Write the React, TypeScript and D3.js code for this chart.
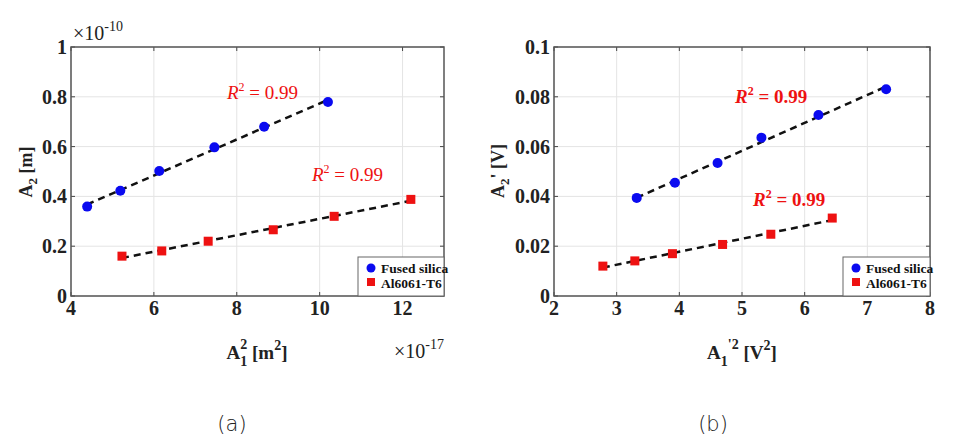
import React from "react";
import * as d3 from "d3";

// Panel (a)
const aFusedX = [4.39, 5.19, 6.13, 7.46, 8.66, 10.2];
const aFusedY = [0.359, 0.423, 0.502, 0.597, 0.68, 0.779];
const aAlX = [5.23, 6.19, 7.31, 8.88, 10.35, 12.2];
const aAlY = [0.16, 0.181, 0.22, 0.266, 0.32, 0.388];
const aXTicks = [4, 6, 8, 10, 12];
const aYTicks = [0, 0.2, 0.4, 0.6, 0.8, 1];

// Panel (b)
const bFusedX = [3.32, 3.93, 4.61, 5.31, 6.22, 7.3];
const bFusedY = [0.0394, 0.0455, 0.0534, 0.0636, 0.0727, 0.083];
const bAlX = [2.78, 3.29, 3.89, 4.69, 5.46, 6.44];
const bAlY = [0.012, 0.0141, 0.017, 0.0207, 0.0248, 0.0313];
const bXTicks = [2, 3, 4, 5, 6, 7, 8];
const bYTicks = [0, 0.02, 0.04, 0.06, 0.08, 0.1];

const legendLabels = ["Fused silica", "Al6061-T6"];

const SERIF = "Liberation Serif, DejaVu Serif, serif";
const BLUE = "#0a0af0";
const RED = "#ee1111";

function fit(xs: number[], ys: number[]) {
  const mx = d3.mean(xs)!;
  const my = d3.mean(ys)!;
  let num = 0, den = 0;
  xs.forEach((x, i) => { num += (x - mx) * (ys[i] - my); den += (x - mx) ** 2; });
  const b = num / den;
  const a = my - b * mx;
  return (x: number) => a + b * x;
}

type PanelProps = {
  x0: number; x1: number; y0: number; y1: number;
  xDomain: [number, number]; yDomain: [number, number];
  xTicks: number[]; yTicks: number[]; yFmt: (v: number) => string;
  fusedX: number[]; fusedY: number[]; alX: number[]; alY: number[];
  legendX: number;
};

function Panel(p: PanelProps) {
  const x = d3.scaleLinear().domain(p.xDomain).range([p.x0, p.x1]);
  const y = d3.scaleLinear().domain(p.yDomain).range([p.y1, p.y0]);
  const f1 = fit(p.fusedX, p.fusedY);
  const f2 = fit(p.alX, p.alY);
  const line = d3.line<number[]>().x(d => x(d[0])).y(d => y(d[1]));
  const ext1 = d3.extent(p.fusedX) as [number, number];
  const ext2 = d3.extent(p.alX) as [number, number];
  const tl = 4;
  return (
    <g>
      {p.xTicks.map(t => (
        <line key={"gx" + t} x1={x(t)} x2={x(t)} y1={p.y0} y2={p.y1} stroke="#e4e4e4" strokeWidth={1} />
      ))}
      {p.yTicks.map(t => (
        <line key={"gy" + t} x1={p.x0} x2={p.x1} y1={y(t)} y2={y(t)} stroke="#e4e4e4" strokeWidth={1} />
      ))}
      {p.xTicks.map(t => (
        <g key={"tx" + t}>
          <line x1={x(t)} x2={x(t)} y1={p.y1} y2={p.y1 - tl} stroke="#444" />
          <line x1={x(t)} x2={x(t)} y1={p.y0} y2={p.y0 + tl} stroke="#444" />
          <text x={x(t)} y={p.y1 + 19} textAnchor="middle" fontFamily={SERIF} fontWeight="bold" fontSize={20} fill="#222">{t}</text>
        </g>
      ))}
      {p.yTicks.map(t => (
        <g key={"ty" + t}>
          <line x1={p.x0} x2={p.x0 + tl} y1={y(t)} y2={y(t)} stroke="#444" />
          <line x1={p.x1} x2={p.x1 - tl} y1={y(t)} y2={y(t)} stroke="#444" />
          <text x={p.x0 - 4} y={y(t) + 7} textAnchor="end" fontFamily={SERIF} fontWeight="bold" fontSize={20} fill="#222">{p.yFmt(t)}</text>
        </g>
      ))}
      <path d={line([[ext1[0], f1(ext1[0])], [ext1[1], f1(ext1[1])]])!} stroke="#111" strokeWidth={2.5} strokeDasharray="7,5" fill="none" />
      <path d={line([[ext2[0], f2(ext2[0])], [ext2[1], f2(ext2[1])]])!} stroke="#111" strokeWidth={2.5} strokeDasharray="7,5" fill="none" />
      {p.fusedX.map((v, i) => (
        <circle key={"f" + i} cx={x(v)} cy={y(p.fusedY[i])} r={5} fill={BLUE} />
      ))}
      {p.alX.map((v, i) => (
        <rect key={"a" + i} x={x(v) - 4.5} y={y(p.alY[i]) - 4.5} width={9} height={9} fill={RED} />
      ))}
      <rect x={p.x0} y={p.y0} width={p.x1 - p.x0} height={p.y1 - p.y0} fill="none" stroke="#555" strokeWidth={1.5} />
      <g>
        <rect x={p.legendX} y={p.y1 - 39} width={p.x1 - p.legendX} height={39} fill="#fff" stroke="#666" strokeWidth={1} />
        <circle cx={p.legendX + 13} cy={p.y1 - 28} r={4.5} fill={BLUE} />
        <rect x={p.legendX + 9} y={p.y1 - 18} width={8} height={8} fill={RED} />
        <text x={p.legendX + 23} y={p.y1 - 23} fontFamily={SERIF} fontWeight="bold" fontSize={13.5} fill="#111">{legendLabels[0]}</text>
        <text x={p.legendX + 23} y={p.y1 - 8} fontFamily={SERIF} fontWeight="bold" fontSize={13.5} fill="#111">{legendLabels[1]}</text>
      </g>
    </g>
  );
}

function R2({ x, y, bold }: { x: number; y: number; bold?: boolean }) {
  return (
    <text x={x} y={y} fontFamily={SERIF} fontSize={19} fill={RED} fontWeight={bold ? "bold" : "normal"}>
      <tspan fontStyle="italic">R</tspan>
      <tspan dy={-8} fontSize={12}>2</tspan>
      <tspan dy={8}> = 0.99</tspan>
    </text>
  );
}

export default function App() {
  return (
    <svg width={959} height={444} style={{ position: "absolute", left: 0, top: 0, background: "#fff" }}>
      <Panel x0={71} x1={444} y0={47} y1={296} xDomain={[4, 13]} yDomain={[0, 1]}
        xTicks={aXTicks} yTicks={aYTicks} yFmt={v => (v === 0 || v === 1 ? String(v) : v.toFixed(1))}
        fusedX={aFusedX} fusedY={aFusedY} alX={aAlX} alY={aAlY} legendX={358} />
      <Panel x0={554} x1={930} y0={47} y1={296} xDomain={[2, 8]} yDomain={[0, 0.1]}
        xTicks={bXTicks} yTicks={bYTicks} yFmt={v => (v === 0 ? "0" : v === 0.1 ? "0.1" : v.toFixed(2))}
        fusedX={bFusedX} fusedY={bFusedY} alX={bAlX} alY={bAlY} legendX={843} />

      {/* Panel a extras */}
      <text x={73} y={40} fontFamily={SERIF} fontSize={20} fill="#222">
        ×10<tspan dy={-9} fontSize={14}>-10</tspan>
      </text>
      <text x={394} y={358} fontFamily={SERIF} fontSize={20} fill="#222">
        ×10<tspan dy={-9} fontSize={14}>-17</tspan>
      </text>
      <R2 x={227} y={99} />
      <R2 x={312} y={181} />
      <text transform="translate(32,172) rotate(-90)" textAnchor="middle" fontFamily={SERIF} fontWeight="bold" fontSize={18} fill="#222">
        A<tspan dy={5} fontSize={13}>2</tspan><tspan dy={-5}>  [m]</tspan>
      </text>
      <text x={257} y={359} textAnchor="middle" fontFamily={SERIF} fontWeight="bold" fontSize={19} fill="#222">
        A<tspan dy={7} fontSize={14}>1</tspan><tspan dy={-17} dx={-7} fontSize={14}>2</tspan><tspan dy={10}> [m</tspan><tspan dy={-9} fontSize={14}>2</tspan><tspan dy={9}>]</tspan>
      </text>
      <text x={232} y={431} textAnchor="middle" fontFamily="'DejaVu Sans', sans-serif" fontWeight={300} fontSize={21} fill="#222">(a)</text>

      {/* Panel b extras */}
      <R2 x={735} y={103} bold />
      <R2 x={753} y={206} bold />
      <text transform="translate(504,171) rotate(-90)" textAnchor="middle" fontFamily={SERIF} fontWeight="bold" fontSize={18} fill="#222">
        A<tspan dy={5} fontSize={13}>2</tspan><tspan dy={-5}>' [V]</tspan>
      </text>
      <text x={742} y={359} textAnchor="middle" fontFamily={SERIF} fontWeight="bold" fontSize={19} fill="#222">
        A<tspan dy={7} fontSize={14}>1</tspan><tspan dy={-17} fontSize={14}>'2</tspan><tspan dy={10}> [V</tspan><tspan dy={-9} fontSize={14}>2</tspan><tspan dy={9}>]</tspan>
      </text>
      <text x={713} y={431} textAnchor="middle" fontFamily="'DejaVu Sans', sans-serif" fontWeight={300} fontSize={21} fill="#222">(b)</text>
    </svg>
  );
}
